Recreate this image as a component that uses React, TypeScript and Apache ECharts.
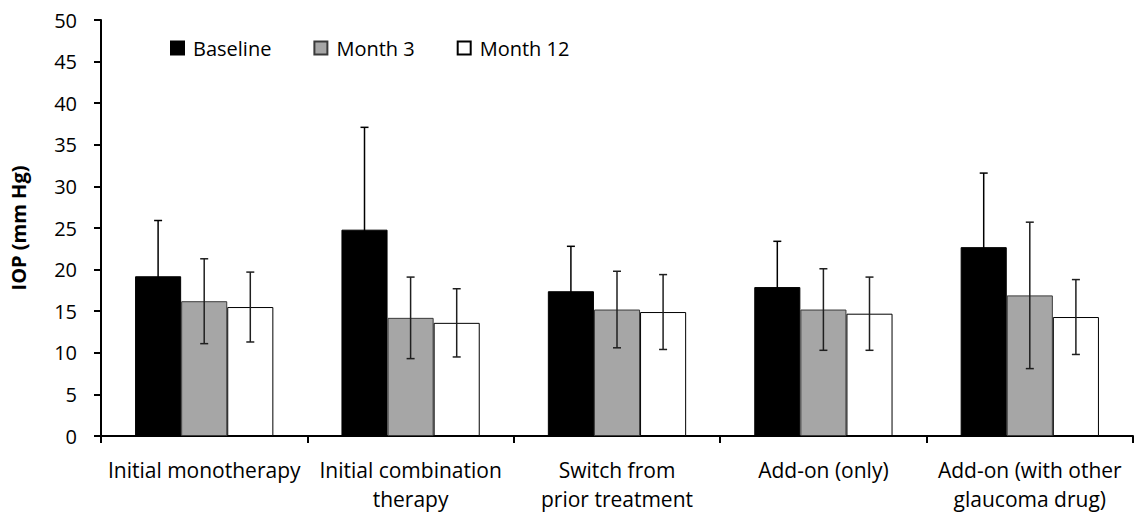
import React, { useEffect, useRef } from "react";
import * as echarts from "echarts";

const categories = [
  "Initial monotherapy",
  "Initial combination\ntherapy",
  "Switch from\nprior treatment",
  "Add-on (only)",
  "Add-on (with other\nglaucoma drug)",
];
const seriesNames = ["Baseline", "Month 3", "Month 12"];
const baseline = [19.2, 24.8, 17.4, 17.9, 22.7];
const baselineSD = [6.7, 12.3, 5.4, 5.5, 8.9];
const month3 = [16.2, 14.2, 15.2, 15.2, 16.9];
const month3SD = [5.1, 4.9, 4.6, 4.9, 8.8];
const month12 = [15.5, 13.6, 14.9, 14.7, 14.3];
const month12SD = [4.2, 4.1, 4.5, 4.4, 4.5];

const FONT = "'Open Sans', sans-serif";
const GAP = 0.33;

export default function App() {
  const ref = useRef<HTMLDivElement>(null);
  useEffect(() => {
    if (!ref.current) return;
    const chart = echarts.init(ref.current, null, { renderer: "svg" });
    const means = [baseline, month3, month12];
    const sds = [baselineSD, month3SD, month12SD];
    const fills = ["#000000", "#a6a6a6", "#ffffff"];
    const borders = ["#000000", "#3a3a3a", "#000000"];
    const errColors = ["#000000", "#1f1f1f", "#1f1f1f"];

    const barSeries = seriesNames.map((name, i) => ({
      name,
      type: "bar",
      data: means[i],
      barGap: "0%",
      barCategoryGap: GAP * 100 + "%",
      itemStyle: { color: fills[i], borderColor: borders[i], borderWidth: 1 },
    }));

    const errSeries = seriesNames.map((name, i) => ({
      name: name + " error",
      type: "custom",
      z: 10,
      silent: true,
      data: means[i].map((m, k) => [k, m, sds[i][k]]),
      encode: { x: 0, y: 1 },
      renderItem: (params: any, api: any) => {
        const idx = api.value(0);
        const mean = api.value(1);
        const sd = api.value(2);
        const band = api.size([1, 0])[0];
        const bw = (band * (1 - GAP)) / 3;
        const c = api.coord([idx, mean]);
        const x = c[0] + (i - 1) * bw;
        const top = api.coord([idx, mean + sd])[1];
        const bot = api.coord([idx, mean - sd])[1];
        const cap = 4;
        const st = { stroke: errColors[i], lineWidth: 1.5 };
        return {
          type: "group",
          children: [
            { type: "line", shape: { x1: x, y1: top, x2: x, y2: bot }, style: st },
            { type: "line", shape: { x1: x - cap, y1: top, x2: x + cap, y2: top }, style: st },
            { type: "line", shape: { x1: x - cap, y1: bot, x2: x + cap, y2: bot }, style: st },
          ],
        };
      },
    }));

    chart.setOption({
      animation: false,
      textStyle: { fontFamily: FONT },
      grid: { left: 97, right: 6, top: 20, bottom: 76, containLabel: false },
      legend: {
        data: seriesNames,
        left: 165,
        top: 33,
        icon: "rect",
        itemWidth: 13,
        itemHeight: 13,
        itemGap: 42,
        textStyle: { fontSize: 20, color: "#000", fontFamily: FONT, padding: [0, 0, 0, 4] },
      },
      xAxis: {
        type: "category",
        data: categories,
        axisLine: { lineStyle: { color: "#000", width: 2 } },
        axisTick: { show: true, length: 7, lineStyle: { color: "#000", width: 2 } },
        axisLabel: {
          interval: 0,
          fontSize: 21,
          lineHeight: 29,
          color: "#000",
          margin: 19,
          fontFamily: FONT,
        },
      },
      yAxis: {
        type: "value",
        min: 0,
        max: 50,
        interval: 5,
        name: "IOP (mm Hg)",
        nameLocation: "middle",
        nameGap: 73,
        nameTextStyle: { fontSize: 20, fontWeight: "bold", color: "#000", fontFamily: FONT },
        splitLine: { show: false },
        axisLine: { show: true, lineStyle: { color: "#000", width: 2 } },
        axisTick: { show: true, length: 7, lineStyle: { color: "#000", width: 2 } },
        axisLabel: { fontSize: 20, color: "#000", margin: 24, fontFamily: FONT },
      },
      series: [...barSeries, ...errSeries],
    });
    return () => chart.dispose();
  }, []);
  return (
    <div
      ref={ref}
      style={{ position: "fixed", left: 0, top: 0, width: 1139, height: 513, background: "#fff" }}
    />
  );
}
